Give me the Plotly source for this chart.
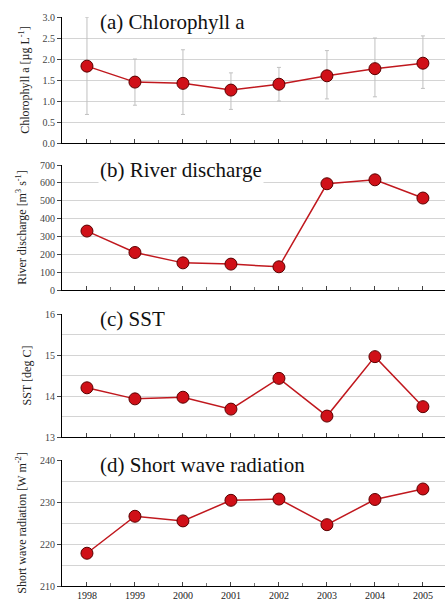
import plotly.graph_objects as go
from plotly.subplots import make_subplots

years = [1998, 1999, 2000, 2001, 2002, 2003, 2004, 2005]
chl = [1.83, 1.45, 1.42, 1.26, 1.40, 1.60, 1.77, 1.90]
chl_hi = [3.00, 2.00, 2.22, 1.67, 1.80, 2.20, 2.50, 2.55]
chl_lo = [0.68, 0.90, 0.68, 0.80, 1.00, 1.05, 1.10, 1.30]
river = [330, 210, 152, 145, 130, 595, 617, 515]
sst = [14.20, 13.93, 13.97, 13.68, 14.43, 13.51, 14.96, 13.74]
swr = [217.8, 226.6, 225.5, 230.4, 230.7, 224.6, 230.6, 233.1]

panel_titles = ["(a) Chlorophyll a", "(b) River discharge", "(c) SST", "(d) Short wave radiation"]
ytitles = ["Chlorophyll a [µg L<sup>-1</sup>]", "River discharge [m<sup>3</sup> s<sup>-1</sup>]",
           "SST [deg C]", "Short wave radiation [W m<sup>-2</sup>]"]

fig = make_subplots(rows=4, cols=1, shared_xaxes=False)

line_col = "#c0181e"
marker = dict(size=12, color="#d01018", line=dict(color="#5a0000", width=1))

err_plus = [h - v for h, v in zip(chl_hi, chl)]
err_minus = [v - l for l, v in zip(chl_lo, chl)]

fig.add_trace(go.Scatter(x=years, y=chl, mode="lines+markers",
                         line=dict(color=line_col, width=1.5), marker=marker,
                         error_y=dict(type="data", symmetric=False, array=err_plus, arrayminus=err_minus,
                                      color="#c0c0c0", thickness=1, width=2)), row=1, col=1)
fig.add_trace(go.Scatter(x=years, y=river, mode="lines+markers",
                         line=dict(color=line_col, width=1.5), marker=marker), row=2, col=1)
fig.add_trace(go.Scatter(x=years, y=sst, mode="lines+markers",
                         line=dict(color=line_col, width=1.5), marker=marker), row=3, col=1)
fig.add_trace(go.Scatter(x=years, y=swr, mode="lines+markers",
                         line=dict(color=line_col, width=1.5), marker=marker), row=4, col=1)

H = 607
top_m, bot_m = 17, 21
plot_h = H - top_m - bot_m
def dom(top_px, bot_px):
    return [(H - bot_m - bot_px) / plot_h, (H - bot_m - top_px) / plot_h]

domains = [dom(17, 143), dom(165, 290), dom(314, 437), dom(460, H - bot_m)]
yranges = [[0, 3.0], [0, 700], [13, 16], [210, 240]]
ydticks = [0.5, 100, 1, 10]
ygrid = [0.5, 100, 0.5, 5]
yfmt = [".1f", "d", "d", "d"]

FF = "Liberation Serif"

for i in range(4):
    xa = "xaxis" if i == 0 else f"xaxis{i+1}"
    ya = "yaxis" if i == 0 else f"yaxis{i+1}"
    fig.layout[xa].update(
        domain=[0, 1], range=[1997.48, 2005.46], tickmode="linear", tick0=1998, dtick=1,
        showticklabels=(i == 3), ticks="inside", ticklen=4, tickcolor="#444",
        showline=True, linecolor="black", linewidth=1.2, showgrid=False, zeroline=False,
        automargin=False,
        minor=dict(dtick=0.5, tick0=1998, ticks="inside", ticklen=3, tickcolor="#777"),
        tickfont=dict(family=FF, size=10, color="#222"),
    )
    fig.layout[ya].update(
        domain=domains[i], range=yranges[i], tickmode="linear", tick0=yranges[i][0],
        dtick=ydticks[i], tickformat=yfmt[i], ticks="outside", ticklen=4, tickcolor="#444",
        showline=True, linecolor="black", linewidth=1.2, showgrid=True, gridcolor="#d4d4d4",
        gridwidth=1, zeroline=False, automargin=False,
        minor=dict(dtick=ygrid[i], showgrid=True, gridcolor="#d4d4d4", ticks=""),
        tickfont=dict(family=FF, size=10, color="#444"),
        title=dict(text=ytitles[i], font=dict(family=FF, size=12, color="#222"), standoff=10),
    )
    fig.add_annotation(text=panel_titles[i], xref=f"x{'' if i == 0 else i+1} domain",
                       yref=f"y{'' if i == 0 else i+1} domain", x=0.095, y=1.0, yshift=-5,
                       xanchor="left", yanchor="middle", showarrow=False,
                       bgcolor="white", borderpad=1,
                       font=dict(family=FF, size=21, color="#111"))

fig.update_layout(
    width=445, height=607, showlegend=False,
    font=dict(family=FF),
    margin=dict(l=62, r=0, t=top_m, b=bot_m, autoexpand=False),
    plot_bgcolor="white", paper_bgcolor="white",
)

fig.write_html("out.html", config={"displayModeBar": False},
               post_script="document.body.style.margin='0';document.body.style.padding='0';")
